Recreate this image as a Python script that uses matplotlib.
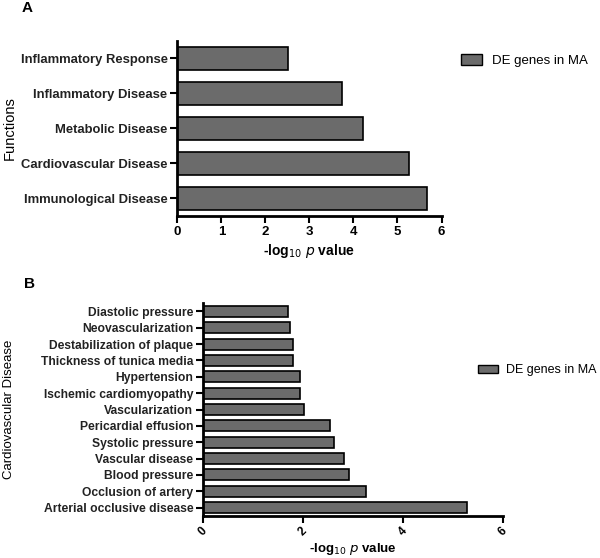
import matplotlib.pyplot as plt
from matplotlib.patches import Patch

plt.rcParams['font.family'] = ['Liberation Sans', 'DejaVu Sans']

# panel A data
funcoes = ['Immunological Disease', 'Cardiovascular Disease', 'Metabolic Disease',
           'Inflammatory Disease', 'Inflammatory Response']
valores_a = [5.67, 5.26, 4.22, 3.74, 2.52]

# panel B data
doencas = ['Arterial occlusive disease', 'Occlusion of artery', 'Blood pressure',
           'Vascular disease', 'Systolic pressure', 'Pericardial effusion',
           'Vascularization', 'Ischemic cardiomyopathy', 'Hypertension',
           'Thickness of tunica media', 'Destabilization of plaque',
           'Neovascularization', 'Diastolic pressure']
valores_b = [5.27, 3.26, 2.91, 2.81, 2.61, 2.54, 2.01, 1.94, 1.93, 1.79, 1.79, 1.74, 1.69]

ticks_a = [0, 1, 2, 3, 4, 5, 6]
ticks_b = [0, 2, 4, 6]

cor_barra = '#6b6b6b'
W, H = 600, 558

fig = plt.figure(figsize=(6, 5.58), dpi=100)

def eixo(x0, x1, y0, y1):
    # converte pixels (origem no topo) para coordenadas da figura
    return fig.add_axes([x0 / W, 1 - y1 / H, (x1 - x0) / W, (y1 - y0) / H])

def estilo(ax):
    for s in ['top', 'right']:
        ax.spines[s].set_visible(False)
    for s in ['left', 'bottom']:
        ax.spines[s].set_linewidth(2)
    ax.tick_params(axis='both', direction='out', length=5, width=1.5, pad=2)

# ---- Painel A ----
ax1 = eixo(177.3, 441.5, 40.8, 216)
ax1.barh(range(len(funcoes)), valores_a, height=0.67, color=cor_barra,
         edgecolor='black', linewidth=1.2, label='DE genes in MA')
ax1.set_ylim(-0.5, 4.5)
ax1.set_xlim(0, 6)
ax1.set_xticks(ticks_a)
ax1.set_yticks(range(len(funcoes)))
ax1.set_yticklabels(funcoes, fontsize=9.4, fontweight='bold', color='#222222')
for t in ax1.get_xticklabels():
    t.set_fontsize(9.5)
    t.set_fontweight('bold')
estilo(ax1)
ax1.set_xlabel('-log$_{10}$ $\\mathit{p}$ value', fontsize=10, fontweight='bold', labelpad=3)
ax1.set_ylabel('Functions', fontsize=10.5)
ax1.yaxis.set_label_coords(-0.607, 0.5)
ax1.legend(handles=[Patch(facecolor=cor_barra, edgecolor='black', label='DE genes in MA')],
           loc='upper left', bbox_to_anchor=(1.03, 0.99), frameon=False, fontsize=9.5,
           handlelength=1.6, handleheight=0.8, handletextpad=0.7)

fig.text(22 / W, 1 - 8 / H, 'A', fontsize=11, fontweight='bold', va='center')

# ---- Painel B ----
ax2 = eixo(203, 503, 303.3, 515.7)
ax2.barh(range(len(doencas)), valores_b, height=0.67, color=cor_barra,
         edgecolor='black', linewidth=1.2)
ax2.set_ylim(-0.5, 12.5)
ax2.set_xlim(0, 6)
ax2.set_xticks(ticks_b)
ax2.set_xticklabels([str(t) for t in ticks_b], rotation=45, ha='center',
                    fontsize=8.5, fontweight='bold')
ax2.set_yticks(range(len(doencas)))
ax2.set_yticklabels(doencas, fontsize=8.7, fontweight='bold', color='#222222')
estilo(ax2)
ax2.set_xlabel('-log$_{10}$ $\\mathit{p}$ value', fontsize=9.5, fontweight='bold', labelpad=2)
ax2.set_ylabel('Cardiovascular Disease', fontsize=9.5)
ax2.yaxis.set_label_coords(-0.627, 0.5)
ax2.legend(handles=[Patch(facecolor=cor_barra, edgecolor='black', label='DE genes in MA')],
           loc='upper left', bbox_to_anchor=(0.88, 0.765), frameon=False, fontsize=9,
           handlelength=1.6, handleheight=0.7, handletextpad=0.6)

fig.text(24 / W, 1 - 284 / H, 'B', fontsize=11, fontweight='bold', va='center')

fig.savefig('out.png', dpi=100, facecolor='white')
